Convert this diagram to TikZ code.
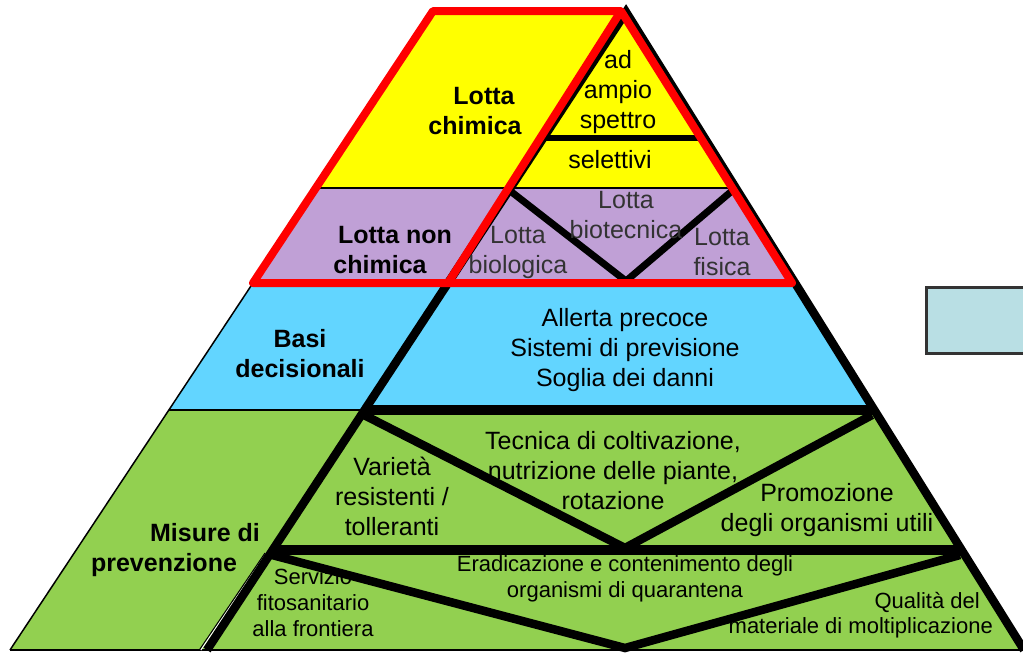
\documentclass[tikz,border=0pt]{standalone}
\usepackage{fontspec}
\setmainfont{Liberation Sans}
\definecolor{cyel}{HTML}{FFFF00}
\definecolor{cpur}{HTML}{C0A0D6}
\definecolor{cblu}{HTML}{62D5FF}
\definecolor{cgrn}{HTML}{92D050}
\definecolor{cbox}{HTML}{B9DFE4}
\definecolor{cred}{HTML}{FF0000}
\begin{document}
\begin{tikzpicture}[x=1pt,y=-1pt,
  lab/.style={font=\bfseries\fontsize{25}{30}\selectfont, inner sep=0pt, align=center},
  txt/.style={font=\fontsize{25}{30}\selectfont, inner sep=0pt, align=center},
  sml/.style={font=\fontsize{22}{26}\selectfont, inner sep=0pt, align=center},
  thinline/.style={line width=1.5pt, black},
  heavy/.style={line width=8.5pt, black},
  divider/.style={line width=10pt, black},
  redline/.style={line width=8pt, cred, line join=round}
]
\useasboundingbox (0,0) rectangle (1023,653);
% key points
\coordinate (apex) at (626,12);
\coordinate (tbl) at (207,650);
\coordinate (tbr) at (1024,650);
\coordinate (ltop) at (433,11);
\coordinate (lbot) at (10,650);
% fills
\begin{scope}
  \clip (ltop) -- (apex) -- (tbr) -- (lbot) -- cycle;
  \fill[cyel] (0,0) rectangle (1030,188);
  \fill[cpur] (0,188) rectangle (1030,283);
  \fill[cblu] (0,283) rectangle (1030,410);
  \fill[cgrn] (0,410) rectangle (1030,660);
\end{scope}
% thin lines
\coordinate (l188) at (316,188); \coordinate (r188) at (736,188);
\coordinate (l410) at (169,410); \coordinate (t410) at (364.6,410);
\draw[line width=2pt] (l188) -- (r188);
\draw[thinline] (ltop) -- (lbot);
\draw[thinline] (l410) -- (t410);
\draw[line width=2pt] (lbot) -- (tbr);
% double line at lower-left row
\coordinate (d1) at (266.5,553); \coordinate (d2) at (200.8,650);
\coordinate (e1) at (265,553); \coordinate (e2) at (199.3,650);
\draw[white, line width=1.2pt] (d1) -- (d2);
\draw[black, line width=1pt] (e1) -- (e2);
% V lines
\coordinate (pv1) at (509,190); \coordinate (pv2) at (626,281); \coordinate (pv3) at (733,190);
\draw[line width=7pt, line join=miter] (pv1) -- (pv2) -- (pv3);
\coordinate (gv1) at (364,415); \coordinate (gv2) at (625,548); \coordinate (gv3) at (872,415);
\draw[heavy, line join=miter] (gv1) -- (gv2) -- (gv3);
\coordinate (hv1) at (272,555); \coordinate (hv2) at (625,648); \coordinate (hv3) at (960,555);
\draw[heavy, line join=miter] (hv1) -- (hv2) -- (hv3);
% dividers
\coordinate (t138) at (543,138); \coordinate (r138) at (705,138);
\draw[line width=6pt] (t138) -- (r138);
\coordinate (r410) at (874.3,410);
\draw[divider] (t410) -- (r410);
\coordinate (t550) at (272.7,550); \coordinate (r550) at (961.6,550);
\draw[divider] (t550) -- (r550);
% triangle outline
\draw[heavy, line join=miter] (tbl) -- (apex) -- (tbr);
% red outline
\coordinate (ra) at (621,11); \coordinate (rb) at (792,283);
\coordinate (rc) at (253,283); \coordinate (rd) at (448,283);
\draw[redline] (ltop) -- (ra) -- (rb) -- (rc) -- cycle;
\draw[redline] (ra) -- (rd);
% labels (left panel)
\node[lab] (lc1) at (484,96) {Lotta};
\node[lab] (lc2) at (475,126) {chimica};
\node[lab] (ln1) at (395,235) {Lotta non};
\node[lab] (ln2) at (380,265) {chimica};
\node[lab] (bd) at (300,354) {Basi\\decisionali};
\node[lab] (mp1) at (205,533) {Misure di};
\node[lab] (mp2) at (164,565) {prevenzione};
% texts (triangle)
\node[txt] (amp) at (618,92) {ad\\ampio\\spettro};
\node[txt] (sel) at (610,160) {selettivi};
\node[txt, text=black!80] (lbio) at (518,252) {Lotta\\biologica};
\node[txt, text=black!80] (lbt) at (626,215) {Lotta\\biotecnica};
\node[txt, text=black!80] (lfis) at (722,252) {Lotta\\fisica};
\node[txt] (all) at (625,350) {Allerta precoce\\Sistemi di previsione\\Soglia dei danni};
\node[txt] (var) at (392,496) {Variet\`a\\resistenti /\\tolleranti};
\node[txt] (tec) at (613,471) {Tecnica di coltivazione,\\nutrizione delle piante,\\rotazione};
\node[txt] (pro) at (827,510) {Promozione\\degli organismi utili};
\node[sml] (era) at (625,579) {Eradicazione e contenimento degli\\organismi di quarantena};
\node[sml] (ser) at (313,603) {Servizio\\fitosanitario\\alla frontiera};
\node[sml, anchor=east] (qua1) at (980,602) {Qualit\`a del};
\node[sml, anchor=east] (qua2) at (993,628) {materiale di moltiplicazione};
% side box
\node[draw=black!80, line width=2.5pt, fill=cbox, minimum width=110pt, minimum height=66pt, anchor=north west, inner sep=0pt] (box) at (925,286) {};
\end{tikzpicture}
\end{document}
